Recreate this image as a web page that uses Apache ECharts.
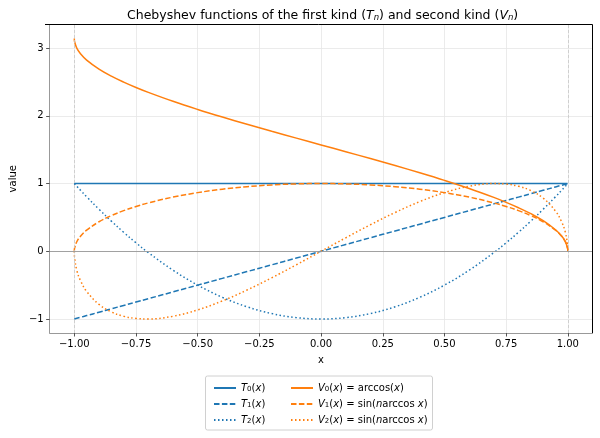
<!DOCTYPE html>
<html>
<head>
<meta charset="utf-8">
<script src="https://cdn.jsdelivr.net/npm/echarts@6/dist/echarts.min.js"></script>
<style>
  html, body { margin: 0; padding: 0; background: #fff; }
  #main { width: 600px; height: 438px; }
</style>
</head>
<body>
<div id="main"></div>
<script>
// x 取样点
var xs = [-1, -0.9999, -0.999, -0.99, -0.975, -0.95, -0.9, -0.85, -0.8, -0.75, -0.7, -0.6, -0.5, -0.4, -0.3, -0.2, -0.1,
  0, 0.1, 0.2, 0.3, 0.4, 0.5, 0.6, 0.7, 0.75, 0.8, 0.85, 0.9, 0.95, 0.975, 0.99, 0.999, 0.9999, 1];

var t0 = [1, 1, 1, 1, 1, 1, 1, 1, 1, 1, 1, 1, 1, 1, 1, 1, 1,
  1, 1, 1, 1, 1, 1, 1, 1, 1, 1, 1, 1, 1, 1, 1, 1, 1, 1];
var t1 = [-1, -0.9999, -0.999, -0.99, -0.975, -0.95, -0.9, -0.85, -0.8, -0.75, -0.7, -0.6, -0.5, -0.4, -0.3, -0.2, -0.1,
  0, 0.1, 0.2, 0.3, 0.4, 0.5, 0.6, 0.7, 0.75, 0.8, 0.85, 0.9, 0.95, 0.975, 0.99, 0.999, 0.9999, 1];
var t2 = [1, 0.9996, 0.996, 0.9602, 0.9013, 0.805, 0.62, 0.445, 0.28, 0.125, -0.02, -0.28, -0.5, -0.68, -0.82, -0.92, -0.98,
  -1, -0.98, -0.92, -0.82, -0.68, -0.5, -0.28, -0.02, 0.125, 0.28, 0.445, 0.62, 0.805, 0.9013, 0.9602, 0.996, 0.9996, 1];
var v0 = [3.1416, 3.1275, 3.0969, 3.0001, 2.9175, 2.824, 2.6906, 2.5868, 2.4981, 2.4189, 2.3462, 2.2143, 2.0944, 1.9823, 1.8755, 1.7722, 1.671,
  1.5708, 1.4706, 1.3694, 1.2661, 1.1593, 1.0472, 0.9273, 0.7954, 0.7227, 0.6435, 0.5548, 0.451, 0.3176, 0.2241, 0.1415, 0.0447, 0.0141, 0];
var v1 = [0, 0.0141, 0.0447, 0.1411, 0.2222, 0.3122, 0.4359, 0.5268, 0.6, 0.6614, 0.7141, 0.8, 0.866, 0.9165, 0.9539, 0.9798, 0.995,
  1, 0.995, 0.9798, 0.9539, 0.9165, 0.866, 0.8, 0.7141, 0.6614, 0.6, 0.5268, 0.4359, 0.3122, 0.2222, 0.1411, 0.0447, 0.0141, 0];
var v2 = [0, -0.0283, -0.0893, -0.2794, -0.4333, -0.5932, -0.7846, -0.8956, -0.96, -0.9922, -0.9997, -0.96, -0.866, -0.7332, -0.5723, -0.3919, -0.199,
  0, 0.199, 0.3919, 0.5723, 0.7332, 0.866, 0.96, 0.9997, 0.9922, 0.96, 0.8956, 0.7846, 0.5932, 0.4333, 0.2794, 0.0893, 0.0283, 0];

var xTicks = [-1, -0.75, -0.5, -0.25, 0, 0.25, 0.5, 0.75, 1];
var yTicks = [-1, 0, 1, 2, 3];

var seriesNames = ['T0', 'T1', 'T2', 'V0', 'V1', 'V2'];
var legendLabels = {
  T0: '{i|T}{s|0}({i|x})',
  T1: '{i|T}{s|1}({i|x})',
  T2: '{i|T}{s|2}({i|x})',
  V0: '{i|V}{s|0}({i|x}) = arccos({i|x})',
  V1: '{i|V}{s|1}({i|x}) = sin({i|n}arccos {i|x})',
  V2: '{i|V}{s|2}({i|x}) = sin({i|n}arccos {i|x})'
};

var blue = '#1f77b4', orange = '#ff7f0e';
var FONT = 'DejaVu Sans';

function pairs(ys) {
  return xs.map(function (x, i) { return [x, ys[i]]; });
}
function minus(v) {
  return String(v).replace('-', '\u2212');
}

var richText = {
  i: { fontStyle: 'italic', fontFamily: FONT, fontSize: 10, color: '#000' },
  s: { fontFamily: FONT, fontSize: 7, color: '#000', verticalAlign: 'bottom', lineHeight: 10 }
};

function line(name, data, color, type) {
  return {
    name: name,
    type: 'line',
    data: pairs(data),
    showSymbol: false,
    symbol: 'none',
    smooth: 0.4,
    lineStyle: { color: color, width: 1.5, type: type },
    itemStyle: { color: color },
    emphasis: { disabled: true },
    animation: false
  };
}

var series = [
  line('T0', t0, blue, 'solid'),
  line('T1', t1, blue, [5.5, 2.4]),
  line('T2', t2, blue, [1.5, 2.5]),
  line('V0', v0, orange, 'solid'),
  line('V1', v1, orange, [5.5, 2.4]),
  line('V2', v2, orange, [1.5, 2.5])
];
// 参考线：x=±1 虚线，y=0 实线
series[0].markLine = {
  silent: true,
  symbol: 'none',
  label: { show: false },
  animation: false,
  data: [
    { xAxis: -1, lineStyle: { color: '#c8c8c8', type: [3, 2], width: 0.8 } },
    { xAxis: 1, lineStyle: { color: '#c8c8c8', type: [3, 2], width: 0.8 } },
    { yAxis: 0, lineStyle: { color: '#999', type: 'solid', width: 0.9 } }
  ]
};
series[0].z = 1;

var legendBase = {
  orient: 'vertical',
  top: 378,
  itemWidth: 22, itemHeight: 10, itemGap: 6,
  itemStyle: { opacity: 0 },
  formatter: function (n) { return legendLabels[n]; },
  textStyle: { fontFamily: FONT, fontSize: 10, color: '#000', rich: richText },
  selectedMode: false
};

var option = {
  backgroundColor: '#fff',
  animation: false,
  title: {
    text: 'Chebyshev functions of the first kind ({i|T}{s|n}) and second kind ({i|V}{s|n})',
    left: 122,
    top: 4,
    textStyle: {
      fontFamily: FONT, fontSize: 12.5, fontWeight: 'normal', color: '#000',
      rich: {
        i: { fontStyle: 'italic', fontFamily: FONT, fontSize: 12.5, color: '#000' },
        s: { fontStyle: 'italic', fontFamily: FONT, fontSize: 8.5, color: '#000', verticalAlign: 'bottom', lineHeight: 12 }
      }
    }
  },
  grid: { left: 45, right: 7.5, top: 24.5, bottom: 105, containLabel: false },
  xAxis: {
    type: 'value',
    min: -1.1, max: 1.1,
    name: 'x', nameLocation: 'middle', nameGap: 22,
    nameTextStyle: { fontFamily: FONT, fontSize: 10, color: '#000' },
    axisLine: { show: true, onZero: false, lineStyle: { color: '#999', width: 1 } },
    axisTick: { show: true, length: 3.5, customValues: xTicks, lineStyle: { color: '#555' } },
    axisLabel: {
      customValues: xTicks, fontFamily: FONT, fontSize: 10, color: '#000', margin: 6,
      formatter: function (v) { return minus(v.toFixed(2)); }
    },
    splitLine: { show: true, lineStyle: { color: '#e6e6e6', width: 0.8 } }
  },
  yAxis: {
    type: 'value',
    min: -1.207, max: 3.349,
    name: 'value', nameLocation: 'middle', nameGap: 28,
    nameTextStyle: { fontFamily: FONT, fontSize: 10, color: '#000' },
    axisLine: { show: true, onZero: false, lineStyle: { color: '#999', width: 1 } },
    axisTick: { show: true, length: 3.5, customValues: yTicks, lineStyle: { color: '#555' } },
    axisLabel: {
      customValues: yTicks, fontFamily: FONT, fontSize: 10, color: '#000', margin: 6,
      formatter: function (v) { return minus(v); }
    },
    splitLine: { show: true, lineStyle: { color: '#e6e6e6', width: 0.8 } }
  },
  legend: [
    Object.assign({}, legendBase, { data: seriesNames.slice(0, 3), left: 208 }),
    Object.assign({}, legendBase, { data: seriesNames.slice(3), left: 285 })
  ],
  graphic: [
    // 图框上、右两边为黑色
    { type: 'line', shape: { x1: 45, y1: 24.5, x2: 592.5, y2: 24.5 }, style: { stroke: '#000', lineWidth: 1 }, z: 100 },
    { type: 'line', shape: { x1: 592.5, y1: 24.5, x2: 592.5, y2: 333 }, style: { stroke: '#000', lineWidth: 1 }, z: 100 },
    // 图例边框
    { type: 'rect', shape: { x: 205.5, y: 376, width: 227, height: 54, r: 2 }, style: { fill: null, stroke: '#d0d0d0', lineWidth: 1 }, z: 100 }
  ],
  series: series
};

var myChart = echarts.init(document.getElementById('main'));
myChart.setOption(option);
</script>
</body>
</html>
